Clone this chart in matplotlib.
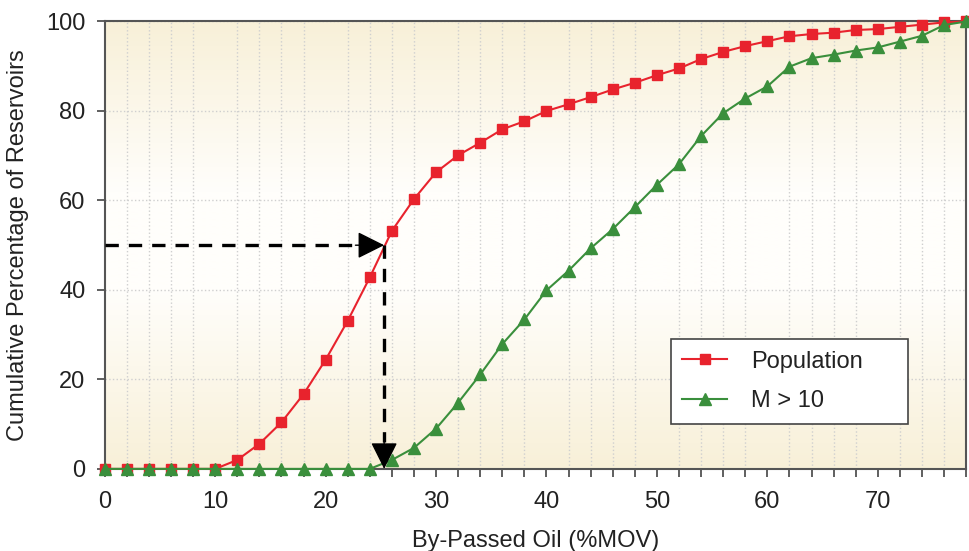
import numpy as np
import matplotlib.pyplot as plt
from matplotlib.colors import LinearSegmentedColormap

plt.rcParams['font.family'] = ['Liberation Sans', 'DejaVu Sans']

# by-passed oil (%MOV), every 2 units
bypassed = np.arange(0, 80, 2)

population = [0, 0, 0, 0, 0, 0, 2.0, 5.6, 10.4, 16.7, 24.4, 33.1, 42.8, 53.2,
              60.3, 66.3, 70.1, 72.9, 75.9, 77.7, 80.0, 81.5, 83.1, 84.8,
              86.3, 88.0, 89.5, 91.6, 93.2, 94.5, 95.6, 96.7, 97.2, 97.5,
              98.1, 98.3, 98.8, 99.3, 99.8, 100.0]
m_gt_10 = [0, 0, 0, 0, 0, 0, 0, 0, 0, 0, 0, 0, 0, 2.0,
           4.7, 9.0, 14.8, 21.1, 27.9, 33.4, 39.9, 44.3, 49.3, 53.6,
           58.5, 63.5, 68.1, 74.4, 79.5, 82.8, 85.5, 89.9, 91.8, 92.6,
           93.5, 94.2, 95.5, 96.8, 99.2, 100.0]

median_x = 25.3
median_y = 50

fig = plt.figure(figsize=(9.7, 5.51), dpi=100)
ax = fig.add_axes([0.108, 0.149, 0.888, 0.812])

# beige -> white -> beige background
bg = LinearSegmentedColormap.from_list('bg', [(0, '#f8f0d8'), (0.4, '#fffefb'),
                                              (0.62, '#fffefb'), (1, '#f8f0d8')])
ax.imshow(np.linspace(0, 1, 256).reshape(-1, 1), cmap=bg, origin='lower',
          extent=[0, 1, 0, 1], transform=ax.transAxes, aspect='auto', zorder=0)

ax.set_xlim(0, 78)
ax.set_ylim(0, 100)
ax.set_xticks(np.arange(0, 71, 10))
ax.set_xticks(np.arange(0, 79, 2), minor=True)
ax.set_yticks(np.arange(0, 101, 20))
ax.grid(True, which='minor', axis='x', color='#cfcfcf', linestyle=':', lw=1.0, zorder=1)
ax.grid(True, which='major', axis='y', color='#cfcfcf', linestyle=':', lw=1.0, zorder=1)
ax.set_axisbelow(True)

ax.tick_params(axis='x', which='both', direction='out', length=6, width=1.2,
               color='#444444', labelsize=17, labelcolor='#222222', pad=10)
ax.tick_params(axis='y', which='major', direction='out', length=6, width=1.2,
               color='#444444', labelsize=17, labelcolor='#222222', pad=8)
for s in ax.spines.values():
    s.set_color('#555555')
    s.set_linewidth(1.5)

ax.plot(bypassed, population, color='#e8232d', marker='s', markersize=7,
        lw=1.5, label='Population', zorder=4, clip_on=False)
ax.plot(bypassed, m_gt_10, color='#3a8f3c', marker='^', markersize=8,
        lw=1.5, label='M > 10', zorder=5, clip_on=False)

# dashed median arrows
ax.plot([0, median_x - 2.4], [median_y, median_y], color='black', ls=(0, (4, 3)), lw=2.4, zorder=6)
ax.plot([median_x, median_x], [median_y, 6], color='black', ls=(0, (4, 3)), lw=2.4, zorder=6)
ax.annotate('', xy=(median_x, median_y), xytext=(median_x - 2.6, median_y),
            arrowprops=dict(arrowstyle='-|>', mutation_scale=42, color='black',
                            lw=1, shrinkA=0, shrinkB=0), zorder=7)
ax.annotate('', xy=(median_x, 0), xytext=(median_x, 6.5),
            arrowprops=dict(arrowstyle='-|>', mutation_scale=42, color='black',
                            lw=1, shrinkA=0, shrinkB=0), zorder=7)

leg = ax.legend(loc='lower left', bbox_to_anchor=(0.657, 0.1, 0.276, 0.175),
                mode='expand', borderaxespad=0, fontsize=17, frameon=True,
                fancybox=False, edgecolor='#444444', framealpha=1,
                handlelength=1.9, borderpad=0.5, labelspacing=0.75,
                handletextpad=1.0)
leg.get_frame().set_linewidth(1.2)
for t in leg.get_texts():
    t.set_color('#222222')

ax.set_xlabel('By-Passed Oil (%MOV)', fontsize=17, color='#222222', labelpad=12)
ax.set_ylabel('Cumulative Percentage of Reservoirs', fontsize=17, color='#222222', labelpad=12)

fig.savefig('out.png', dpi=100)
